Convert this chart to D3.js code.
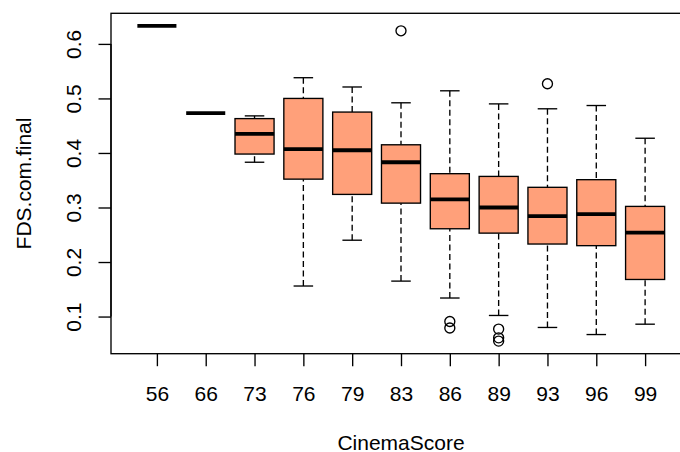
<!DOCTYPE html>
<html>
<head>
<meta charset="utf-8">
<script src="https://cdn.jsdelivr.net/npm/d3@7"></script>
<style>
  html, body { margin: 0; padding: 0; background: #fff; }
  svg { display: block; font-family: "Liberation Sans", Arial, Helvetica, sans-serif; }
</style>
</head>
<body>
<svg id="chart" width="680" height="452"></svg>
<script>
// FDS.com.final by CinemaScore: five-number summaries per group
const categories  = ["56", "66", "73", "76", "79", "83", "86", "89", "93", "96", "99"];
const whiskerLow  = [0.633, 0.473, 0.383, 0.156, 0.240, 0.165, 0.134, 0.102, 0.080, 0.067, 0.086];
const lowerQuart  = [0.633, 0.473, 0.398, 0.352, 0.324, 0.308, 0.261, 0.253, 0.233, 0.230, 0.168];
const medians     = [0.633, 0.473, 0.435, 0.407, 0.405, 0.383, 0.315, 0.300, 0.284, 0.288, 0.254];
const upperQuart  = [0.633, 0.473, 0.463, 0.500, 0.475, 0.415, 0.362, 0.357, 0.337, 0.351, 0.302];
const whiskerHigh = [0.633, 0.473, 0.468, 0.538, 0.521, 0.492, 0.514, 0.490, 0.481, 0.487, 0.427];
const outliers    = [[], [], [], [], [], [0.624], [0.091, 0.079], [0.077, 0.061, 0.055], [0.527], [], []];
const yTicks      = [0.1, 0.2, 0.3, 0.4, 0.5, 0.6];

const svg = d3.select("#chart");
const plot = { left: 111, right: 691, top: 13.3, bottom: 353.7 };
const fontPx = 21;
const lw = 1.35;

// x: group index with half-group margins, then a 4% expansion on each side
const n = categories.length;
const xLo = 0.5, xHi = n + 0.5, xPad = (xHi - xLo) * 0.04;
const x = d3.scaleLinear().domain([xLo - xPad, xHi + xPad]).range([plot.left, plot.right]);

// y: data extent (whiskers and outliers) expanded by 4%
const allVals = whiskerLow.concat(whiskerHigh, outliers.flat());
const yMin = d3.min(allVals), yMax = d3.max(allVals), yPad = (yMax - yMin) * 0.04;
const y = d3.scaleLinear().domain([yMin - yPad, yMax + yPad]).range([plot.bottom, plot.top]);

const unit = x(2) - x(1);
const boxW = unit * 0.8;
const capW = boxW * 0.5;

const groups = svg.append("g").selectAll("g")
  .data(categories.map((c, i) => ({
    c, i: i + 1,
    lo: whiskerLow[i], q1: lowerQuart[i], med: medians[i], q3: upperQuart[i], hi: whiskerHigh[i],
    out: outliers[i]
  })))
  .join("g");

// dashed whiskers, drawn from the whisker ends toward the box
groups.append("line")
  .attr("x1", d => x(d.i)).attr("x2", d => x(d.i))
  .attr("y1", d => y(d.lo)).attr("y2", d => y(d.q1))
  .attr("stroke", "#000").attr("stroke-width", lw).attr("stroke-dasharray", "6,3.5");
groups.append("line")
  .attr("x1", d => x(d.i)).attr("x2", d => x(d.i))
  .attr("y1", d => y(d.hi)).attr("y2", d => y(d.q3))
  .attr("stroke", "#000").attr("stroke-width", lw).attr("stroke-dasharray", "6,3.5");

// staples
groups.append("line")
  .attr("x1", d => x(d.i) - capW / 2).attr("x2", d => x(d.i) + capW / 2)
  .attr("y1", d => y(d.lo)).attr("y2", d => y(d.lo))
  .attr("stroke", "#000").attr("stroke-width", lw);
groups.append("line")
  .attr("x1", d => x(d.i) - capW / 2).attr("x2", d => x(d.i) + capW / 2)
  .attr("y1", d => y(d.hi)).attr("y2", d => y(d.hi))
  .attr("stroke", "#000").attr("stroke-width", lw);

// boxes
groups.append("rect")
  .attr("x", d => x(d.i) - boxW / 2)
  .attr("width", boxW)
  .attr("y", d => y(d.q3))
  .attr("height", d => y(d.q1) - y(d.q3))
  .attr("fill", "#FFA07A")
  .attr("stroke", "#000").attr("stroke-width", lw);

// medians
groups.append("line")
  .attr("x1", d => x(d.i) - boxW / 2).attr("x2", d => x(d.i) + boxW / 2)
  .attr("y1", d => y(d.med)).attr("y2", d => y(d.med))
  .attr("stroke", "#000").attr("stroke-width", 3.8).attr("stroke-linecap", "butt");

// outliers
groups.selectAll("circle")
  .data(d => d.out.map(v => ({ i: d.i, v })))
  .join("circle")
  .attr("cx", d => x(d.i)).attr("cy", d => y(d.v)).attr("r", 5)
  .attr("fill", "none").attr("stroke", "#000").attr("stroke-width", lw);

// plot frame
svg.append("rect")
  .attr("x", plot.left).attr("y", plot.top)
  .attr("width", plot.right - plot.left).attr("height", plot.bottom - plot.top)
  .attr("fill", "none").attr("stroke", "#000").attr("stroke-width", lw);

// x axis
const xAxis = d3.axisBottom(x)
  .tickValues(d3.range(1, n + 1))
  .tickFormat(i => categories[i - 1])
  .tickSize(12.5).tickPadding(0);
const gx = svg.append("g").attr("transform", `translate(0,${plot.bottom})`).call(xAxis);
gx.select(".domain").remove();
gx.selectAll(".tick line").attr("stroke", "#000").attr("stroke-width", lw);
gx.selectAll(".tick text")
  .attr("y", 47).attr("dy", null)
  .attr("fill", "#000").style("font-size", fontPx + "px")
  .style("font-family", '"Liberation Sans", Arial, sans-serif');

// y axis with labels rotated parallel to the axis
const yAxis = d3.axisLeft(y).tickValues(yTicks).tickFormat(d3.format(".1f")).tickSize(12.5);
const gy = svg.append("g").attr("transform", `translate(${plot.left},0)`).call(yAxis);
gy.select(".domain")
  .attr("d", `M0,${y(yTicks[0])}V${y(yTicks[yTicks.length - 1])}`)
  .attr("stroke", "#000").attr("stroke-width", lw);
gy.selectAll(".tick line").attr("stroke", "#000").attr("stroke-width", lw);
gy.selectAll(".tick text")
  .attr("x", null).attr("dy", null)
  .attr("transform", "translate(-30,0) rotate(-90)")
  .attr("text-anchor", "middle")
  .attr("fill", "#000").style("font-size", fontPx + "px")
  .style("font-family", '"Liberation Sans", Arial, sans-serif');

// axis titles
svg.append("text")
  .attr("x", (plot.left + plot.right) / 2).attr("y", 449.5)
  .attr("text-anchor", "middle").style("font-size", fontPx + "px")
  .text("CinemaScore");
svg.append("text")
  .attr("transform", `translate(30.5,${(plot.top + plot.bottom) / 2}) rotate(-90)`)
  .attr("text-anchor", "middle").style("font-size", fontPx + "px")
  .text("FDS.com.final");
</script>
</body>
</html>
